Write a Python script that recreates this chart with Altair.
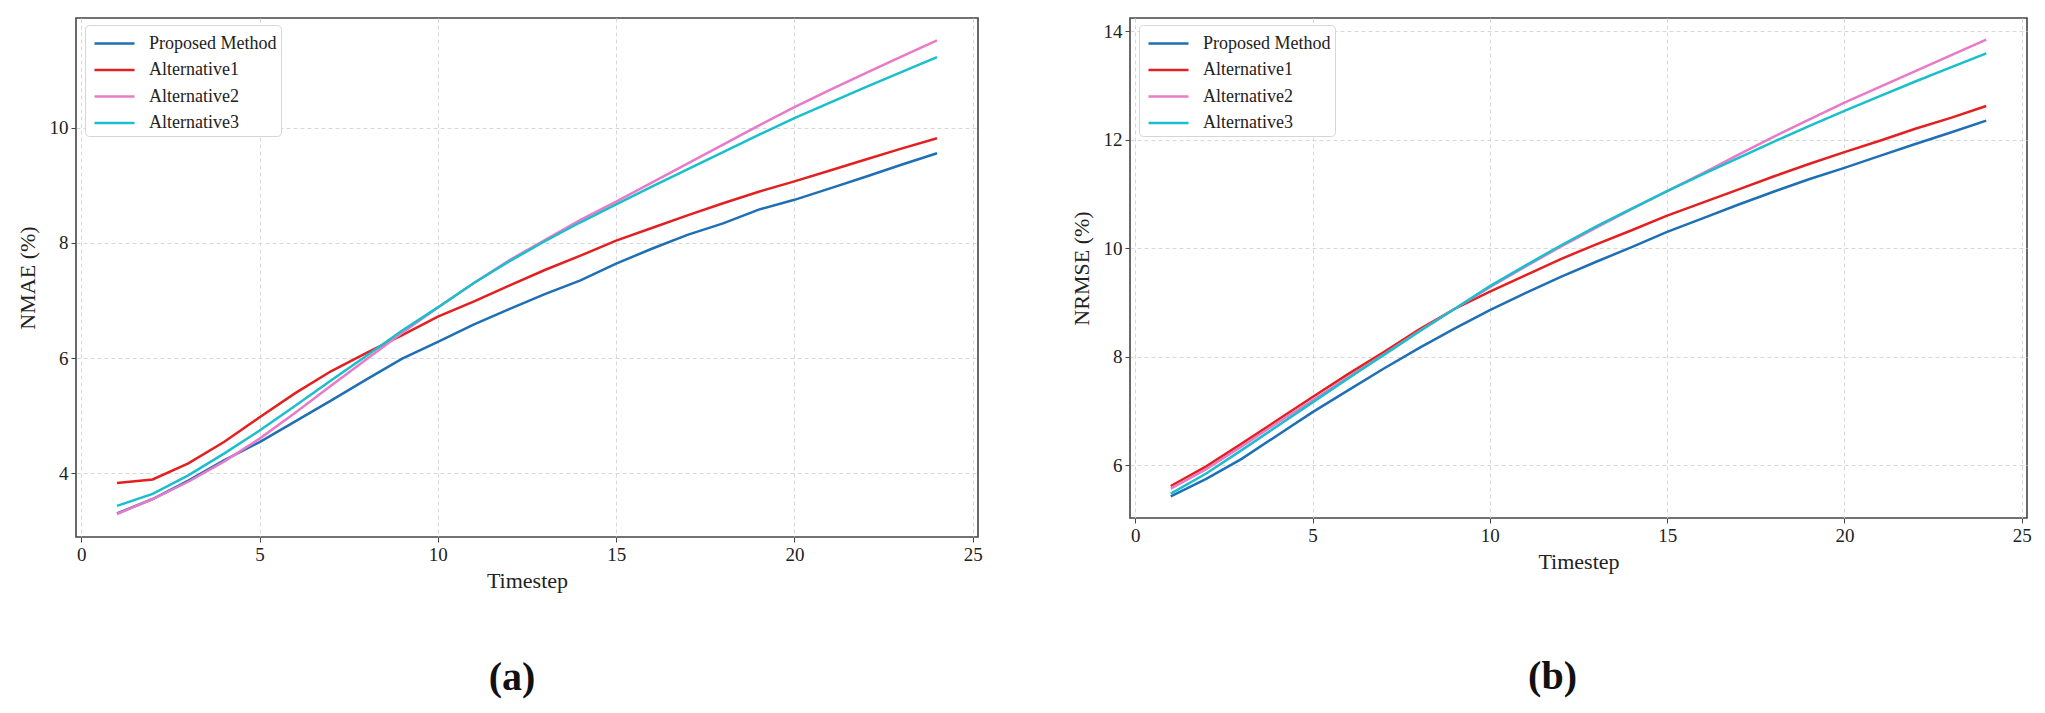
import altair as alt
import pandas as pd

# ---- data -----------------------------------------------------------------
timesteps = list(range(1, 25))

series_names = ["Proposed Method", "Alternative1", "Alternative2", "Alternative3"]
series_colors = ["#1f6fb4", "#e3201f", "#e87ac8", "#19bfcc"]

# NMAE (%) per forecast timestep
nmae_proposed = [3.30, 3.55, 3.87, 4.22, 4.54, 4.90, 5.26, 5.63, 5.99, 6.28, 6.58, 6.85,
                 7.11, 7.35, 7.64, 7.90, 8.14, 8.34, 8.58, 8.75, 8.95, 9.15, 9.36, 9.56]
nmae_alt1 = [3.83, 3.89, 4.17, 4.54, 4.97, 5.39, 5.77, 6.09, 6.40, 6.72, 6.98, 7.26,
             7.53, 7.78, 8.04, 8.26, 8.48, 8.69, 8.89, 9.07, 9.26, 9.45, 9.64, 9.82]
nmae_alt2 = [3.29, 3.55, 3.85, 4.20, 4.60, 5.05, 5.52, 5.98, 6.44, 6.88, 7.30, 7.70,
             8.05, 8.40, 8.72, 9.05, 9.38, 9.71, 10.04, 10.36, 10.66, 10.95, 11.24, 11.52]
nmae_alt3 = [3.43, 3.64, 3.96, 4.34, 4.74, 5.17, 5.61, 6.04, 6.48, 6.88, 7.30, 7.68,
             8.03, 8.36, 8.67, 8.98, 9.28, 9.58, 9.88, 10.17, 10.44, 10.71, 10.97, 11.23]

# NRMSE (%) per forecast timestep
nrmse_proposed = [5.43, 5.75, 6.12, 6.55, 6.98, 7.38, 7.78, 8.16, 8.52, 8.86, 9.17, 9.47,
                  9.75, 10.02, 10.30, 10.55, 10.80, 11.04, 11.27, 11.48, 11.70, 11.92, 12.13, 12.35]
nrmse_alt1 = [5.62, 5.98, 6.40, 6.83, 7.26, 7.68, 8.08, 8.50, 8.88, 9.20, 9.50, 9.80,
              10.07, 10.33, 10.60, 10.84, 11.08, 11.32, 11.55, 11.77, 11.98, 12.20, 12.40, 12.62]
nrmse_alt2 = [5.57, 5.93, 6.35, 6.78, 7.20, 7.62, 8.04, 8.47, 8.88, 9.28, 9.66, 10.03,
              10.38, 10.72, 11.05, 11.38, 11.72, 12.05, 12.37, 12.68, 12.97, 13.26, 13.55, 13.84]
nrmse_alt3 = [5.48, 5.85, 6.28, 6.72, 7.16, 7.60, 8.03, 8.46, 8.88, 9.30, 9.68, 10.05,
              10.40, 10.73, 11.05, 11.36, 11.66, 11.96, 12.25, 12.53, 12.80, 13.07, 13.33, 13.59]

x_ticks = [0, 5, 10, 15, 20, 25]
nmae_ticks = [4, 6, 8, 10]
nrmse_ticks = [6, 8, 10, 12, 14]

FONT = "Liberation Serif"
INK = "#222222"


def long_table(columns):
    rows = []
    for order, (name, values) in enumerate(zip(series_names, columns)):
        for t, v in zip(timesteps, values):
            rows.append({"Timestep": t, "value": v, "series": name, "k": order})
    return pd.DataFrame(rows)


def panel(df, y_title, y_domain, y_ticks, width, height, tag, tag_offset, tag_dx):
    color = alt.Color(
        "series:N",
        scale=alt.Scale(domain=series_names, range=series_colors),
        sort=series_names,
        legend=alt.Legend(
            title=None,
            orient="none",
            legendX=9,
            legendY=7,
            symbolType="M-1.54,0H1.54",
            symbolSize=676,
            symbolStrokeWidth=2.5,
            labelFont=FONT,
            labelFontSize=18,
            labelColor=INK,
            labelOffset=20,
            symbolOffset=11,
            rowPadding=2.5,
            padding=4,
            fillColor="white",
            strokeColor="#d6d6d6",
            cornerRadius=4,
        ),
    )
    return (
        alt.Chart(df)
        .mark_line(strokeWidth=2.5)
        .encode(
            x=alt.X(
                "Timestep:Q",
                scale=alt.Scale(domain=[-0.15, 25.15], nice=False, zero=False),
                axis=alt.Axis(values=x_ticks, title="Timestep", format="d"),
            ),
            y=alt.Y(
                "value:Q",
                scale=alt.Scale(domain=y_domain, nice=False, zero=False),
                axis=alt.Axis(values=y_ticks, title=y_title, format="d"),
            ),
            color=color,
            detail="k:O",
        )
        .properties(
            width=width,
            height=height,
            title=alt.TitleParams(
                text=tag,
                orient="bottom",
                offset=tag_offset,
                dx=tag_dx,
                font=FONT,
                fontSize=40,
                fontWeight="bold",
                color="#111111",
            ),
        )
    )


left = panel(
    long_table([nmae_proposed, nmae_alt1, nmae_alt2, nmae_alt3]),
    "NMAE (%)", [2.89, 11.91], nmae_ticks, 902, 519, "(a)", 67, -15,
)
right = panel(
    long_table([nrmse_proposed, nrmse_alt1, nrmse_alt2, nrmse_alt3]),
    "NRMSE (%)", [5.03, 14.24], nrmse_ticks, 897, 500, "(b)", 85, -26,
)

chart = (
    alt.hconcat(left, right, spacing=86)
    .resolve_scale(color="independent", x="independent", y="independent")
    .properties(
        padding={"left": 15, "top": 17, "right": 5, "bottom": 5},
        background="white",
    )
    .configure_view(stroke="#444444", strokeWidth=1.6)
    .configure_axis(
        domain=False,
        grid=True,
        gridColor="#d8d8d8",
        gridDash=[4, 3],
        gridWidth=1,
        tickColor="#444444",
        tickSize=5,
        tickWidth=1,
        labelFont=FONT,
        labelFontSize=19,
        labelColor=INK,
        labelPadding=3,
        titleFont=FONT,
        titleFontSize=22,
        titleFontWeight="normal",
        titleColor=INK,
    )
    .configure_axisX(titlePadding=6)
    .configure_axisY(titlePadding=10)
)

chart.save("out.html", embed_options={"renderer": "svg", "actions": False})
